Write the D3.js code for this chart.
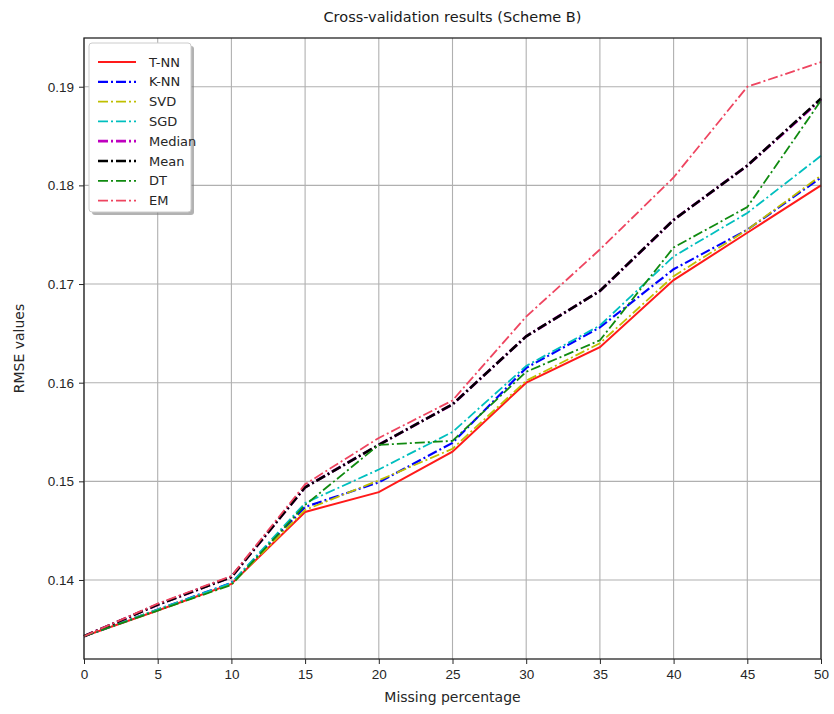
<!DOCTYPE html>
<html>
<head>
    <meta http-equiv="Content-Type" content="text/html;charset=utf-8">
    <script src="https://d3js.org/d3.v7.min.js"></script>
    <style>
        html, body {
            margin: 0;
            padding: 0;
            background: #fff;
            font-family: "DejaVu Sans", sans-serif;
        }

        svg {
            display: block;
        }

        .grid line {
            stroke: #b0b0b0;
            stroke-width: 1.1;
        }

        .axis text {
            font-size: 13.5px;
            fill: #262626;
        }

        .axis line, .axis path {
            stroke: #262626;
        }

        path.series {
            fill: none;
        }
    </style>
</head>
<body>
<div id="chart"></div>
<script>
    // Missing percentage on the x axis
    var missing = [0, 5, 10, 15, 20, 25, 30, 35, 40, 45, 50];

    // RMSE per method
    var tnn    = [0.1343, 0.1369, 0.1396, 0.1469, 0.1489, 0.1530, 0.1600, 0.1636, 0.1704, 0.1752, 0.1800];
    var knn    = [0.1343, 0.1370, 0.1397, 0.1474, 0.1499, 0.1539, 0.1615, 0.1656, 0.1715, 0.1755, 0.1808];
    var svd    = [0.1343, 0.1370, 0.1396, 0.1471, 0.1501, 0.1533, 0.1602, 0.1640, 0.1708, 0.1755, 0.1810];
    var sgd    = [0.1343, 0.1370, 0.1397, 0.1478, 0.1512, 0.1550, 0.1617, 0.1658, 0.1728, 0.1772, 0.1830];
    var median = [0.1343, 0.1375, 0.1403, 0.1494, 0.1537, 0.1578, 0.1647, 0.1693, 0.1765, 0.1820, 0.1887];
    var mean   = [0.1343, 0.1375, 0.1403, 0.1494, 0.1537, 0.1578, 0.1647, 0.1693, 0.1765, 0.1820, 0.1888];
    var dt     = [0.1343, 0.1369, 0.1395, 0.1476, 0.1537, 0.1541, 0.1611, 0.1643, 0.1737, 0.1778, 0.1886];
    var em     = [0.1343, 0.1376, 0.1404, 0.1497, 0.1544, 0.1582, 0.1667, 0.1735, 0.1808, 0.1900, 0.1925];

    var methods = ["T-NN", "K-NN", "SVD", "SGD", "Median", "Mean", "DT", "EM"];
    var xTicks = [0, 5, 10, 15, 20, 25, 30, 35, 40, 45, 50];
    var yTicks = [0.14, 0.15, 0.16, 0.17, 0.18, 0.19];

    var series = [
        {name: methods[0], values: tnn,    color: "#ff1a1a", width: 2,   dash: null},
        {name: methods[1], values: knn,    color: "#0000ff", width: 2.2, dash: "10,3,2,3"},
        {name: methods[2], values: svd,    color: "#bfbf00", width: 1.8, dash: "10,3,2,3"},
        {name: methods[3], values: sgd,    color: "#00bfbf", width: 1.8, dash: "10,3,2,3"},
        {name: methods[4], values: median, color: "#bf00bf", width: 2.8, dash: "10,3,2,3"},
        {name: methods[5], values: mean,   color: "#000000", width: 2.6, dash: "10,3,2,3"},
        {name: methods[6], values: dt,     color: "#108a10", width: 1.8, dash: "10,3,2,3"},
        {name: methods[7], values: em,     color: "#ee4560", width: 1.8, dash: "10,3,2,3"}
    ];

    var width = 834,
        height = 714,
        margin = {top: 38, right: 13, bottom: 55, left: 84};

    var svg = d3.select("#chart").append("svg")
        .attr("width", width)
        .attr("height", height);

    var x = d3.scaleLinear()
        .domain([0, 50])
        .range([margin.left, width - margin.right]);

    var y = d3.scaleLinear()
        .domain([0.13199, 0.19494])
        .range([height - margin.bottom, margin.top]);

    // grid
    var grid = svg.append("g").attr("class", "grid");
    grid.selectAll("line.gx").data(xTicks).enter().append("line")
        .attr("x1", function (d) { return x(d); })
        .attr("x2", function (d) { return x(d); })
        .attr("y1", margin.top)
        .attr("y2", height - margin.bottom);
    grid.selectAll("line.gy").data(yTicks).enter().append("line")
        .attr("y1", function (d) { return y(d); })
        .attr("y2", function (d) { return y(d); })
        .attr("x1", margin.left)
        .attr("x2", width - margin.right);

    // lines
    var line = d3.line()
        .x(function (d, i) { return x(missing[i]); })
        .y(function (d) { return y(d); });

    svg.selectAll("path.series").data(series).enter().append("path")
        .attr("class", "series")
        .attr("d", function (d) { return line(d.values); })
        .style("stroke", function (d) { return d.color; })
        .style("stroke-width", function (d) { return d.width; })
        .style("stroke-dasharray", function (d) { return d.dash; });

    // frame
    svg.append("rect")
        .attr("x", margin.left)
        .attr("y", margin.top)
        .attr("width", width - margin.left - margin.right)
        .attr("height", height - margin.top - margin.bottom)
        .style("fill", "none")
        .style("stroke", "#262626")
        .style("stroke-width", 1.3);

    // axes
    svg.append("g")
        .attr("class", "axis")
        .attr("transform", "translate(0," + (height - margin.bottom) + ")")
        .call(d3.axisBottom(x).tickValues(xTicks).tickSize(5).tickPadding(5).tickFormat(d3.format("d")))
        .call(function (g) { g.select(".domain").remove(); });

    svg.append("g")
        .attr("class", "axis")
        .attr("transform", "translate(" + margin.left + ",0)")
        .call(d3.axisLeft(y).tickValues(yTicks).tickSize(5).tickPadding(5).tickFormat(d3.format(".2f")))
        .call(function (g) { g.select(".domain").remove(); });

    // titles
    svg.append("text")
        .attr("x", (margin.left + width - margin.right) / 2)
        .attr("y", 22)
        .attr("text-anchor", "middle")
        .style("font-size", "14.5px")
        .style("fill", "#1a1a1a")
        .text("Cross-validation results (Scheme B)");

    svg.append("text")
        .attr("x", (margin.left + width - margin.right) / 2)
        .attr("y", 702)
        .attr("text-anchor", "middle")
        .style("font-size", "14px")
        .style("fill", "#262626")
        .text("Missing percentage");

    svg.append("text")
        .attr("transform", "translate(24," + ((margin.top + height - margin.bottom) / 2) + ") rotate(-90)")
        .attr("text-anchor", "middle")
        .style("font-size", "14px")
        .style("fill", "#262626")
        .text("RMSE values");

    // legend with shadow
    var lg = svg.append("g").attr("transform", "translate(89,43)");
    lg.append("rect")
        .attr("x", 3).attr("y", 3)
        .attr("width", 102).attr("height", 169)
        .attr("rx", 3)
        .style("fill", "#7f7f7f")
        .style("opacity", 0.6);
    lg.append("rect")
        .attr("width", 102).attr("height", 169)
        .attr("rx", 3)
        .style("fill", "#fff")
        .style("stroke", "#cccccc");

    var rows = lg.selectAll("g.row").data(series).enter().append("g")
        .attr("class", "row")
        .attr("transform", function (d, i) { return "translate(0," + (19 + i * 19.8) + ")"; });
    rows.append("line")
        .attr("x1", 9).attr("x2", 47)
        .style("stroke", function (d) { return d.color; })
        .style("stroke-width", function (d) { return d.width; })
        .style("stroke-dasharray", function (d) { return d.dash; });
    rows.append("text")
        .attr("x", 60)
        .attr("dy", "0.35em")
        .style("font-size", "13px")
        .style("fill", "#262626")
        .text(function (d) { return d.name; });
</script>
</body>
</html>
